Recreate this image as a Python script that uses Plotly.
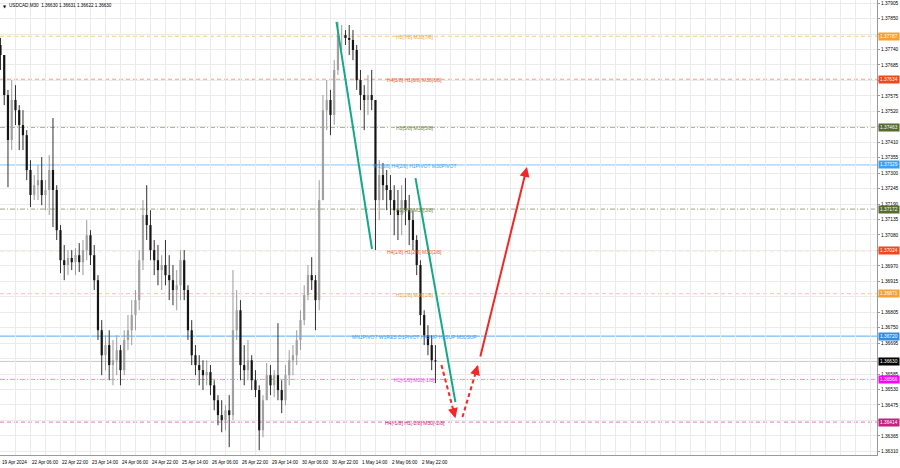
import plotly.graph_objects as go

# ---------------- data (each candle = 4 M30 bars) ----------------
high = [1.37781, 1.37720, 1.37596, 1.37631, 1.37613, 1.37542, 1.37524, 1.37453, 1.37346, 1.37293,
        1.37329, 1.37357, 1.37275, 1.37364, 1.37496, 1.37257, 1.37115, 1.37044, 1.37026, 1.37026,
        1.37033, 1.37051, 1.37062, 1.37133, 1.37097, 1.37044, 1.36937, 1.36777, 1.36723, 1.36741,
        1.36706, 1.36723, 1.36688, 1.36741, 1.36795, 1.36848, 1.36884, 1.37026, 1.37204, 1.37257,
        1.37168, 1.37062, 1.37044, 1.37008, 1.37062, 1.37008, 1.36973, 1.36955, 1.37026, 1.37026,
        1.36901, 1.36777, 1.36688, 1.36652, 1.36634, 1.36634, 1.36617, 1.36563, 1.36510, 1.36492,
        1.36474, 1.36510, 1.36955, 1.36884, 1.36848, 1.36688, 1.36706, 1.36652, 1.36599, 1.36545,
        1.36510, 1.36624, 1.36617, 1.36599, 1.36766, 1.36563, 1.36617, 1.36670, 1.36688, 1.36741,
        1.36812, 1.36901, 1.36973, 1.37001, 1.36937, 1.37275, 1.37578, 1.37631, 1.37596, 1.37702,
        1.37838, 1.37827, 1.37809, 1.37827, 1.37809, 1.37756, 1.37667, 1.37613, 1.37649, 1.37667,
        1.37560, 1.37346, 1.37336, 1.37311, 1.37293, 1.37257, 1.37240, 1.37257, 1.37282, 1.37222,
        1.37168, 1.37079, 1.36990, 1.36812, 1.36759, 1.36723, 1.36688]
low = [1.37667, 1.37542, 1.37250, 1.37382, 1.37471, 1.37382, 1.37382, 1.37275, 1.37179, 1.37204,
       1.37204, 1.37186, 1.37168, 1.37151, 1.37108, 1.37062, 1.36944, 1.36919, 1.36937, 1.36955,
       1.36937, 1.36948, 1.36937, 1.36990, 1.36973, 1.36884, 1.36706, 1.36581, 1.36599, 1.36563,
       1.36545, 1.36581, 1.36545, 1.36581, 1.36670, 1.36688, 1.36741, 1.36812, 1.36955, 1.37062,
       1.36990, 1.36937, 1.36901, 1.36884, 1.36901, 1.36848, 1.36830, 1.36812, 1.36848, 1.36848,
       1.36706, 1.36617, 1.36581, 1.36545, 1.36528, 1.36545, 1.36510, 1.36456, 1.36403, 1.36378,
       1.36385, 1.36325, 1.36421, 1.36706, 1.36563, 1.36545, 1.36563, 1.36528, 1.36503, 1.36314,
       1.36360, 1.36492, 1.36510, 1.36503, 1.36492, 1.36446, 1.36474, 1.36545, 1.36581, 1.36617,
       1.36670, 1.36759, 1.36848, 1.36884, 1.36741, 1.36812, 1.37204, 1.37453, 1.37435, 1.37471,
       1.37649, 1.37738, 1.37756, 1.37720, 1.37702, 1.37596, 1.37524, 1.37453, 1.37507, 1.37524,
       1.37026, 1.37133, 1.37204, 1.37168, 1.37151, 1.37079, 1.37062, 1.37079, 1.37115, 1.37044,
       1.37026, 1.36937, 1.36759, 1.36688, 1.36652, 1.36599, 1.36553]
close = [1.37720, 1.37578, 1.37418, 1.37560, 1.37524, 1.37471, 1.37435, 1.37311, 1.37222, 1.37257,
         1.37275, 1.37222, 1.37240, 1.37311, 1.37240, 1.37097, 1.36990, 1.36973, 1.36998, 1.36983,
         1.37008, 1.36983, 1.37026, 1.37079, 1.37008, 1.36919, 1.36741, 1.36652, 1.36688, 1.36617,
         1.36634, 1.36670, 1.36599, 1.36706, 1.36741, 1.36795, 1.36848, 1.36990, 1.37151, 1.37115,
         1.37026, 1.36990, 1.36955, 1.36973, 1.36937, 1.36919, 1.36884, 1.36901, 1.36990, 1.36884,
         1.36741, 1.36652, 1.36617, 1.36599, 1.36581, 1.36592, 1.36545, 1.36492, 1.36439, 1.36421,
         1.36456, 1.36439, 1.36741, 1.36812, 1.36617, 1.36599, 1.36634, 1.36563, 1.36528, 1.36385,
         1.36492, 1.36581, 1.36545, 1.36581, 1.36528, 1.36492, 1.36581, 1.36634, 1.36652, 1.36706,
         1.36777, 1.36866, 1.36937, 1.36919, 1.36848, 1.37204, 1.37524, 1.37560, 1.37507, 1.37667,
         1.37791, 1.37791, 1.37781, 1.37774, 1.37738, 1.37631, 1.37578, 1.37560, 1.37578, 1.37560,
         1.37204, 1.37293, 1.37257, 1.37240, 1.37204, 1.37168, 1.37151, 1.37204, 1.37168, 1.37133,
         1.37062, 1.36973, 1.36795, 1.36723, 1.36688, 1.36634, 1.36630]
first_open = 1.37756
bars_per_candle = 4

x_label_bars = [0, 32, 64, 96, 128, 160, 192, 224, 256, 288, 320, 352, 384, 416, 448]
x_label_text = ["19 Apr 2024", "22 Apr 06:00", "22 Apr 22:00", "23 Apr 14:00", "24 Apr 06:00",
                "24 Apr 22:00", "25 Apr 14:00", "26 Apr 06:00", "26 Apr 22:00", "29 Apr 14:00",
                "30 Apr 06:00", "30 Apr 22:00", "1 May 14:00", "2 May 06:00", "2 May 22:00"]

y_ticks = [1.36310, 1.36365, 1.36420, 1.36475, 1.36530, 1.36585, 1.36640, 1.36695, 1.36750, 1.36805,
           1.36860, 1.36915, 1.36970, 1.37025, 1.37080, 1.37135, 1.37190, 1.37245, 1.37300, 1.37355,
           1.37410, 1.37465, 1.37520, 1.37575, 1.37630, 1.37685, 1.37740, 1.37795, 1.37850, 1.37905]
# tick labels covered by the coloured price boxes in the reference
hidden_ticks = [1.36420, 1.36640, 1.36860, 1.37025, 1.37465, 1.37630, 1.37795]

level_price = [1.37787, 1.37634, 1.37463, 1.37329, 1.37172, 1.37024, 1.36871, 1.36720, 1.36566, 1.36414]
level_text = ["H1[7/8] M30[7/8]", "H4[3/8] H1[6/8] M30[6/8]", "H1[5/8] M30[5/8]",
              "W1[3/8] H4[2/8] H1PIVOT M30PIVOT", "H1[3/8] M30[3/8]", "H4[1/8] H1[2/8] M30[2/8]",
              "H1[1/8] M30[1/8]", "MN1PIVOT W1RES D1PIVOT H4SUP H1SUP M30SUP",
              "H1[-1/8] M30[-1/8]", "H4[-1/8] H1[-2/8] M30[-2/8]"]
level_line_color = ["rgba(250,165,40,0.6)", "rgba(250,90,50,0.6)", "rgba(100,120,60,0.65)",
                    "rgba(120,190,245,0.9)", "rgba(100,120,60,0.65)", "rgba(250,90,50,0.6)",
                    "rgba(250,165,40,0.6)", "rgba(70,160,240,0.9)", "rgba(255,60,255,0.65)",
                    "rgba(215,50,140,0.65)"]
level_text_color = ["#f0a030", "#f05a2a", "#6b7f3a", "#3a9ff0", "#6b7f3a", "#f05a2a",
                    "#f0a030", "#3a9ff0", "#ff30ff", "#c8207f"]
level_box_color = ["#f7a030", "#f04818", "#556b2f", "#3aa0f0", "#556b2f", "#f04818",
                   "#f7a030", "#2f8fe6", "#ff00ff", "#c8207f"]
level_dash = ["4px,3px", "4px,3px", "5px,2px,1px,2px", "solid", "5px,2px,1px,2px", "4px,3px",
              "4px,3px", "solid", "5px,2px,1px,2px", "4px,3px"]
level_label_bar = 442

current_price = 1.36630
title_text = "USDCAD,M30  1.36630 1.36631 1.36622 1.36630"

# forecast drawings: (bar, price) pairs
teal_lines = [((358.4, 1.37838), (396.3, 1.37030)),
              ((442.7, 1.37282), (485.3, 1.36485))]
red_dashed = [((470.4, 1.36617), (485.3, 1.36428)),
              ((492.8, 1.36432), (509.3, 1.36617))]
red_solid = [((511.5, 1.36642), (561.6, 1.37322))]

# ---------------- figure ----------------
opens = [first_open] + close[:-1]
xs = [i * bars_per_candle for i in range(len(close))]

fig = go.Figure()
for bull, wcol, bcol in [(True, "#9a9a9a", "#a0a0a0"), (False, "#303030", "#151515")]:
    wx, wy, bx, by = [], [], [], []
    for x, o, h, l, c in zip(xs, opens, high, low, close):
        if (c >= o) != bull:
            continue
        wx += [x, x, None]
        wy += [l, h, None]
        bx += [x, x, None]
        by += [o, c, None]
    fig.add_trace(go.Scatter(x=wx, y=wy, mode="lines", line=dict(color=wcol, width=1),
                             hoverinfo="skip", showlegend=False))
    fig.add_trace(go.Scatter(x=bx, y=by, mode="lines", line=dict(color=bcol, width=2.2),
                             hoverinfo="skip", showlegend=False))

shapes = []
annotations = []

for p, lc, d in zip(level_price, level_line_color, level_dash):
    shapes.append(dict(type="line", xref="paper", x0=0, x1=1, yref="y", y0=p, y1=p,
                       line=dict(color=lc, width=1, dash=d), layer="below"))
shapes.append(dict(type="line", xref="paper", x0=0, x1=1, yref="y", y0=current_price, y1=current_price,
                   line=dict(color="#c8c8c8", width=1), layer="below"))

for p, t, tc in zip(level_price, level_text, level_text_color):
    annotations.append(dict(x=level_label_bar, y=p, xref="x", yref="y", text=t, showarrow=False,
                            font=dict(family="Liberation Sans", size=5, color=tc), yshift=-1))

for p, bc in zip(level_price + [current_price], level_box_color + ["#000000"]):
    annotations.append(dict(x=1, y=p, xref="paper", yref="y", xanchor="left", xshift=1,
                            text="%.5f" % p, showarrow=False, bgcolor=bc, borderpad=1,
                            font=dict(family="Liberation Sans", size=4.8, color="#ffffff")))

for b, t in zip(x_label_bars, x_label_text):
    annotations.append(dict(x=b, y=0, xref="x", yref="paper", xanchor="left", yanchor="top",
                            xshift=0, yshift=-3, text=t, showarrow=False,
                            font=dict(family="Liberation Sans", size=4.6, color="#000000")))

annotations.append(dict(x=0, y=1, xref="paper", yref="paper", xanchor="left", yanchor="top",
                        xshift=1, yshift=-2, text="\u25bc", showarrow=False,
                        font=dict(family="DejaVu Sans", size=4, color="#000000")))
annotations.append(dict(x=0, y=1, xref="paper", yref="paper", xanchor="left", yanchor="top",
                        xshift=7, yshift=-1, text=title_text, showarrow=False,
                        font=dict(family="Liberation Sans", size=4.6, color="#000000")))

for (a, b) in teal_lines:
    shapes.append(dict(type="line", xref="x", yref="y", x0=a[0], y0=a[1], x1=b[0], y1=b[1],
                       line=dict(color="#14a888", width=2)))

for (a, b) in red_dashed:
    shapes.append(dict(type="line", xref="x", yref="y", x0=a[0], y0=a[1], x1=b[0], y1=b[1],
                       line=dict(color="#f02828", width=2, dash="4px,3px")))
    annotations.append(dict(x=b[0], y=b[1], ax=a[0] + 0.85 * (b[0] - a[0]), ay=a[1] + 0.85 * (b[1] - a[1]),
                            xref="x", yref="y", axref="x", ayref="y", text="", showarrow=True,
                            arrowhead=2, arrowsize=1, arrowwidth=2, arrowcolor="#f02828"))

for (a, b) in red_solid:
    annotations.append(dict(x=b[0], y=b[1], ax=a[0], ay=a[1],
                            xref="x", yref="y", axref="x", ayref="y", text="", showarrow=True,
                            arrowhead=2, arrowsize=1, arrowwidth=2, arrowcolor="#f02828"))

y_tick_text = ["" if any(abs(v - h) < 1e-7 for h in hidden_ticks) else "%.5f" % v for v in y_ticks]

fig.update_layout(
    width=900, height=468,
    margin=dict(l=0, r=23, t=0, b=13),
    paper_bgcolor="#ffffff", plot_bgcolor="#ffffff",
    shapes=shapes, annotations=annotations,
    showlegend=False,
    xaxis=dict(range=[-0.5, 935], tickvals=list(range(0, 936, 16)), ticktext=[""] * 59,
               showgrid=True, gridcolor="#ebebeb", gridwidth=1, zeroline=False,
               showline=True, linecolor="#9a9a9a", linewidth=1,
               ticks="", fixedrange=True),
    yaxis=dict(range=[1.36297, 1.37916], side="right", tickvals=y_ticks, ticktext=y_tick_text,
               showgrid=True, gridcolor="#ebebeb", gridwidth=1, zeroline=False,
               showline=True, linecolor="#9a9a9a", linewidth=1,
               ticks="outside", ticklen=2, tickcolor="#9a9a9a",
               tickfont=dict(family="Liberation Sans", size=4.8, color="#000000")),
)

fig.write_html("out.html", config={"displayModeBar": False},
               post_script="document.body.style.margin='0';document.body.style.padding='0';"
                           "document.body.style.overflow='hidden';")
